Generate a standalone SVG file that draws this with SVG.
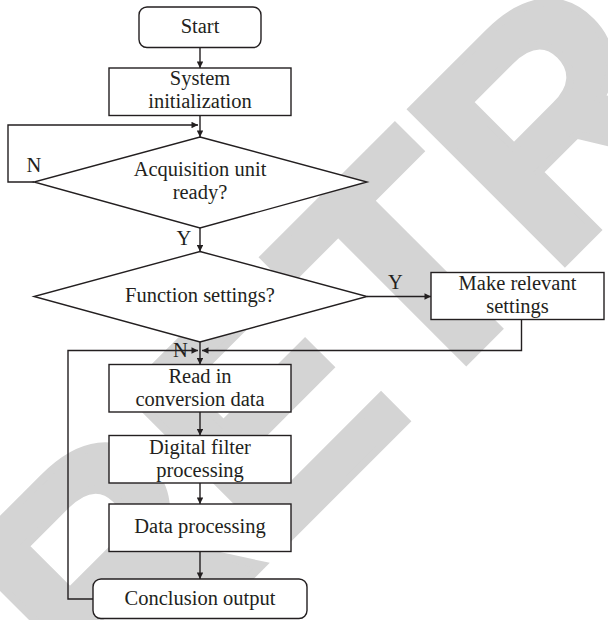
<svg xmlns="http://www.w3.org/2000/svg" width="608" height="620" viewBox="0 0 608 620">
  <defs>
    <marker id="arr" viewBox="0 0 10 10" refX="10" refY="5" markerWidth="8" markerHeight="6.5" markerUnits="userSpaceOnUse" orient="auto">
      <path d="M0,0 L10,5 L0,10 z" fill="#231f20"/>
    </marker>
  </defs>
  <style>
    .shape { fill: #ffffff; stroke: #231f20; stroke-width: 1.4; }
    .wire { fill: none; stroke: #231f20; stroke-width: 1.4; marker-end: url(#arr); }
    .lbl { font-family: "Liberation Serif", "Times New Roman", serif; font-size: 20.5px; fill: #231f20; text-anchor: middle; }
    .mark { font-family: "Liberation Sans", Arial, sans-serif; font-weight: bold; font-size: 314px; fill: #d4d4d4; stroke: #d4d4d4; stroke-width: 8; }
  </style>

  <rect width="608" height="620" fill="#ffffff"/>

  <!-- background stamp -->
  <text class="mark" transform="translate(106,721) rotate(-45)">RETR</text>

  <!-- connectors -->
  <g id="connectors">
    <path class="wire" d="M200,47.5 V68"/>
    <path class="wire" d="M200,115.5 V137"/>
    <path class="wire" d="M34,182 H8 V125 H198"/>
    <path class="wire" d="M200,228 V251.5"/>
    <path class="wire" d="M367,296.5 H431"/>
    <path class="wire" d="M521.5,319.5 V350.5 H202"/>
    <path class="wire" d="M200,342 V364.5"/>
    <path class="wire" d="M93,599 H68 V350.5 H198"/>
    <path class="wire" d="M200,412 V435.5"/>
    <path class="wire" d="M200,483 V504"/>
    <path class="wire" d="M200,551.5 V579"/>
    <text class="lbl" x="34" y="171.5">N</text>
    <text class="lbl" x="184" y="245">Y</text>
    <text class="lbl" x="395.5" y="288.5">Y</text>
    <text class="lbl" x="180.5" y="357">N</text>
  </g>

  <g id="start">
    <rect class="shape" x="139" y="7" width="122" height="40.5" rx="8"/>
    <text class="lbl" x="200" y="33">Start</text>
  </g>

  <g id="system-init">
    <rect class="shape" x="109" y="68" width="182" height="47.5"/>
    <text class="lbl" x="200" y="85">System</text>
    <text class="lbl" x="200" y="108">initialization</text>
  </g>

  <g id="acquisition-ready">
    <polygon class="shape" points="200,137 367,182 200,228 34,182"/>
    <text class="lbl" x="200" y="175.5">Acquisition unit</text>
    <text class="lbl" x="200" y="198.5">ready?</text>
  </g>

  <g id="function-settings">
    <polygon class="shape" points="200,251.5 367,296.5 200,342 34,296.5"/>
    <text class="lbl" x="200" y="302">Function settings?</text>
  </g>

  <g id="make-settings">
    <rect class="shape" x="431" y="272.5" width="173" height="47"/>
    <text class="lbl" x="517.5" y="290">Make relevant</text>
    <text class="lbl" x="517.5" y="313">settings</text>
  </g>

  <g id="read-data">
    <rect class="shape" x="109" y="364.5" width="182" height="47.5"/>
    <text class="lbl" x="200" y="382.5">Read in</text>
    <text class="lbl" x="200" y="405.5">conversion data</text>
  </g>

  <g id="digital-filter">
    <rect class="shape" x="109" y="435.5" width="182" height="47.5"/>
    <text class="lbl" x="200" y="453.5">Digital filter</text>
    <text class="lbl" x="200" y="476.5">processing</text>
  </g>

  <g id="data-processing">
    <rect class="shape" x="109" y="504" width="182" height="47.5"/>
    <text class="lbl" x="200" y="533">Data processing</text>
  </g>

  <g id="conclusion">
    <rect class="shape" x="93" y="579" width="214" height="39.5" rx="8"/>
    <text class="lbl" x="200" y="605">Conclusion output</text>
  </g>
</svg>
